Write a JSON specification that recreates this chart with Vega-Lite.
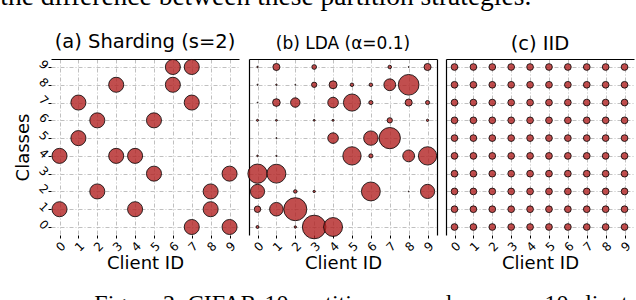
{
  "$schema": "https://vega.github.io/schema/vega-lite/v6.json",
  "padding": {"left": 0, "top": -17, "right": 0, "bottom": 0},
  "background": "white",
  "config": {
    "font": "DejaVu Sans",
    "view": {"stroke": null},
    "axis": {
      "labelFont": "DejaVu Sans", "titleFont": "DejaVu Sans",
      "gridColor": "#b0b0b0", "gridDash": [4, 2, 1, 2], "gridWidth": 0.8,
      "domainColor": "black", "domainWidth": 1.2, "tickColor": "black",
      "labelColor": "black", "titleColor": "black", "titleFontWeight": "normal"
    },
    "title": {"font": "DejaVu Sans", "fontWeight": "normal", "color": "black"}
  },
  "datasets": {
    "shard": [
      {"c": 0, "k": 4, "n": 2500}, {"c": 0, "k": 1, "n": 2500},
      {"c": 1, "k": 7, "n": 2500}, {"c": 1, "k": 5, "n": 2500},
      {"c": 2, "k": 6, "n": 2500}, {"c": 2, "k": 2, "n": 2500},
      {"c": 3, "k": 8, "n": 2500}, {"c": 3, "k": 4, "n": 2500},
      {"c": 4, "k": 4, "n": 2500}, {"c": 4, "k": 1, "n": 2500},
      {"c": 5, "k": 6, "n": 2500}, {"c": 5, "k": 3, "n": 2500},
      {"c": 6, "k": 9, "n": 2500}, {"c": 6, "k": 8, "n": 2500},
      {"c": 7, "k": 9, "n": 2500}, {"c": 7, "k": 7, "n": 2500}, {"c": 7, "k": 0, "n": 2500},
      {"c": 8, "k": 2, "n": 2500}, {"c": 8, "k": 1, "n": 2500},
      {"c": 9, "k": 3, "n": 2500}, {"c": 9, "k": 0, "n": 2500}
    ],
    "lda": [
      {"c": 0, "k": 9, "n": 24}, {"c": 1, "k": 9, "n": 553}, {"c": 3, "k": 9, "n": 246}, {"c": 7, "k": 9, "n": 138}, {"c": 8, "k": 9, "n": 9}, {"c": 9, "k": 9, "n": 553},
      {"c": 0, "k": 8, "n": 15}, {"c": 1, "k": 8, "n": 24}, {"c": 2, "k": 8, "n": 9}, {"c": 3, "k": 8, "n": 311}, {"c": 4, "k": 8, "n": 700}, {"c": 5, "k": 8, "n": 138}, {"c": 6, "k": 8, "n": 138}, {"c": 7, "k": 8, "n": 1538}, {"c": 8, "k": 8, "n": 4710},
      {"c": 0, "k": 7, "n": 9}, {"c": 1, "k": 7, "n": 650}, {"c": 2, "k": 7, "n": 984}, {"c": 4, "k": 7, "n": 1246}, {"c": 5, "k": 7, "n": 3233}, {"c": 6, "k": 7, "n": 188}, {"c": 8, "k": 7, "n": 553}, {"c": 9, "k": 7, "n": 188},
      {"c": 0, "k": 6, "n": 47}, {"c": 1, "k": 6, "n": 40}, {"c": 3, "k": 6, "n": 40}, {"c": 4, "k": 6, "n": 47}, {"c": 7, "k": 6, "n": 311}, {"c": 9, "k": 6, "n": 61},
      {"c": 1, "k": 5, "n": 15}, {"c": 4, "k": 5, "n": 1246}, {"c": 6, "k": 5, "n": 2300}, {"c": 7, "k": 5, "n": 4983},
      {"c": 0, "k": 4, "n": 30}, {"c": 1, "k": 4, "n": 20}, {"c": 5, "k": 4, "n": 3694}, {"c": 6, "k": 4, "n": 188}, {"c": 8, "k": 4, "n": 1538}, {"c": 9, "k": 4, "n": 3694},
      {"c": 0, "k": 3, "n": 4100}, {"c": 1, "k": 3, "n": 3937},
      {"c": 0, "k": 2, "n": 2215}, {"c": 2, "k": 2, "n": 138}, {"c": 3, "k": 2, "n": 61}, {"c": 6, "k": 2, "n": 3937}, {"c": 8, "k": 2, "n": 9}, {"c": 9, "k": 2, "n": 2215},
      {"c": 0, "k": 1, "n": 465}, {"c": 1, "k": 1, "n": 2034}, {"c": 2, "k": 1, "n": 5848},
      {"c": 0, "k": 0, "n": 96}, {"c": 2, "k": 0, "n": 61}, {"c": 3, "k": 0, "n": 6150}, {"c": 4, "k": 0, "n": 3937}
    ],
    "iid": [
      {"c":0,"k":0,"n":500},{"c":1,"k":0,"n":500},{"c":2,"k":0,"n":500},{"c":3,"k":0,"n":500},{"c":4,"k":0,"n":500},{"c":5,"k":0,"n":500},{"c":6,"k":0,"n":500},{"c":7,"k":0,"n":500},{"c":8,"k":0,"n":500},{"c":9,"k":0,"n":500},
      {"c":0,"k":1,"n":500},{"c":1,"k":1,"n":500},{"c":2,"k":1,"n":500},{"c":3,"k":1,"n":500},{"c":4,"k":1,"n":500},{"c":5,"k":1,"n":500},{"c":6,"k":1,"n":500},{"c":7,"k":1,"n":500},{"c":8,"k":1,"n":500},{"c":9,"k":1,"n":500},
      {"c":0,"k":2,"n":500},{"c":1,"k":2,"n":500},{"c":2,"k":2,"n":500},{"c":3,"k":2,"n":500},{"c":4,"k":2,"n":500},{"c":5,"k":2,"n":500},{"c":6,"k":2,"n":500},{"c":7,"k":2,"n":500},{"c":8,"k":2,"n":500},{"c":9,"k":2,"n":500},
      {"c":0,"k":3,"n":500},{"c":1,"k":3,"n":500},{"c":2,"k":3,"n":500},{"c":3,"k":3,"n":500},{"c":4,"k":3,"n":500},{"c":5,"k":3,"n":500},{"c":6,"k":3,"n":500},{"c":7,"k":3,"n":500},{"c":8,"k":3,"n":500},{"c":9,"k":3,"n":500},
      {"c":0,"k":4,"n":500},{"c":1,"k":4,"n":500},{"c":2,"k":4,"n":500},{"c":3,"k":4,"n":500},{"c":4,"k":4,"n":500},{"c":5,"k":4,"n":500},{"c":6,"k":4,"n":500},{"c":7,"k":4,"n":500},{"c":8,"k":4,"n":500},{"c":9,"k":4,"n":500},
      {"c":0,"k":5,"n":500},{"c":1,"k":5,"n":500},{"c":2,"k":5,"n":500},{"c":3,"k":5,"n":500},{"c":4,"k":5,"n":500},{"c":5,"k":5,"n":500},{"c":6,"k":5,"n":500},{"c":7,"k":5,"n":500},{"c":8,"k":5,"n":500},{"c":9,"k":5,"n":500},
      {"c":0,"k":6,"n":500},{"c":1,"k":6,"n":500},{"c":2,"k":6,"n":500},{"c":3,"k":6,"n":500},{"c":4,"k":6,"n":500},{"c":5,"k":6,"n":500},{"c":6,"k":6,"n":500},{"c":7,"k":6,"n":500},{"c":8,"k":6,"n":500},{"c":9,"k":6,"n":500},
      {"c":0,"k":7,"n":500},{"c":1,"k":7,"n":500},{"c":2,"k":7,"n":500},{"c":3,"k":7,"n":500},{"c":4,"k":7,"n":500},{"c":5,"k":7,"n":500},{"c":6,"k":7,"n":500},{"c":7,"k":7,"n":500},{"c":8,"k":7,"n":500},{"c":9,"k":7,"n":500},
      {"c":0,"k":8,"n":500},{"c":1,"k":8,"n":500},{"c":2,"k":8,"n":500},{"c":3,"k":8,"n":500},{"c":4,"k":8,"n":500},{"c":5,"k":8,"n":500},{"c":6,"k":8,"n":500},{"c":7,"k":8,"n":500},{"c":8,"k":8,"n":500},{"c":9,"k":8,"n":500},
      {"c":0,"k":9,"n":500},{"c":1,"k":9,"n":500},{"c":2,"k":9,"n":500},{"c":3,"k":9,"n":500},{"c":4,"k":9,"n":500},{"c":5,"k":9,"n":500},{"c":6,"k":9,"n":500},{"c":7,"k":9,"n":500},{"c":8,"k":9,"n":500},{"c":9,"k":9,"n":500}
    ]
  },
  "title": {
    "text": "Figure 2: CIFAR-10 partition examples across 10 clients.",
    "orient": "bottom", "anchor": "start", "font": "Liberation Serif",
    "fontSize": 24, "offset": 20, "dx": 94
  },
  "vconcat": [
    {
      "title": {
        "text": "the difference between these partition strategies.",
        "anchor": "start", "font": "Liberation Serif", "fontSize": 27.5,
        "offset": 21, "dx": -14
      },
      "spacing": 7,
      "hconcat": [
        {
          "width": 188, "height": 176,
          "title": {"text": "(a) Sharding (s=2)", "fontSize": 19.5, "offset": 5},
          "data": {"name": "shard"},
          "layer": [
            {
              "mark": {"type": "circle", "fill": "#b22222", "fillOpacity": 0.8, "stroke": "black", "strokeWidth": 0.8, "opacity": 1},
              "encoding": {
                "x": {"field": "c", "type": "quantitative",
                  "scale": {"domain": [-0.45, 9.5], "nice": false, "zero": false},
                  "axis": {"values": [0,1,2,3,4,5,6,7,8,9], "labelAngle": -45, "labelFontSize": 12, "tickSize": 3, "domain": false,
                    "title": "Client ID", "titleFontSize": 18, "labelPadding": 2, "titlePadding": 1}},
                "y": {"field": "k", "type": "quantitative",
                  "scale": {"domain": [-0.45, 9.45], "nice": false, "zero": false},
                  "axis": {"values": [0,1,2,3,4,5,6,7,8,9], "labelAngle": 45, "labelFontSize": 12, "tickSize": 3, "domain": false,
                    "title": "Classes", "titleFontSize": 18, "labelPadding": 2, "titlePadding": 4}},
                "size": {"field": "n", "type": "quantitative", "scale": {"domain": [0, 2500], "range": [0, 227]}, "legend": null}
              }
            },
            {
              "mark": {"type": "point", "opacity": 0},
              "encoding": {
                "x": {"field": "c", "type": "quantitative",
                  "axis": {"orient": "top", "labels": false, "ticks": false, "grid": false, "domain": true, "title": null}}
              }
            }
          ],
          "resolve": {"axis": {"x": "independent"}}
        },
        {
          "width": 188, "height": 176,
          "title": {"text": "(b) LDA (α=0.1)", "fontSize": 17, "offset": 6},
          "data": {"name": "lda"},
          "layer": [
            {
              "mark": {"type": "circle", "fill": "#b22222", "fillOpacity": 0.8, "stroke": "black", "strokeWidth": 0.8, "opacity": 1},
              "encoding": {
                "x": {"field": "c", "type": "quantitative",
                  "scale": {"domain": [-0.45, 9.5], "nice": false, "zero": false},
                  "axis": {"values": [0,1,2,3,4,5,6,7,8,9], "labelAngle": -45, "labelFontSize": 12, "tickSize": 3, "domain": false,
                    "title": "Client ID", "titleFontSize": 18, "labelPadding": 2, "titlePadding": 1}},
                "y": {"field": "k", "type": "quantitative",
                  "scale": {"domain": [-0.45, 9.45], "nice": false, "zero": false},
                  "axis": {"values": [0,1,2,3,4,5,6,7,8,9], "labels": false, "ticks": false, "domain": true, "title": null}},
                "size": {"field": "n", "type": "quantitative", "scale": {"domain": [0, 2500], "range": [0, 227]}, "legend": null}
              }
            },
            {
              "mark": {"type": "point", "opacity": 0},
              "encoding": {
                "x": {"field": "c", "type": "quantitative",
                  "axis": {"orient": "top", "labels": false, "ticks": false, "grid": false, "domain": true, "title": null}},
                "y": {"field": "k", "type": "quantitative",
                  "axis": {"orient": "right", "labels": false, "ticks": false, "grid": false, "domain": true, "title": null}}
              }
            }
          ],
          "resolve": {"axis": {"x": "independent", "y": "independent"}}
        },
        {
          "width": 188, "height": 176,
          "title": {"text": "(c) IID", "fontSize": 19.5, "offset": 5},
          "data": {"name": "iid"},
          "layer": [
            {
              "mark": {"type": "circle", "fill": "#b22222", "fillOpacity": 0.8, "stroke": "black", "strokeWidth": 0.8, "opacity": 1},
              "encoding": {
                "x": {"field": "c", "type": "quantitative",
                  "scale": {"domain": [-0.45, 9.5], "nice": false, "zero": false},
                  "axis": {"values": [0,1,2,3,4,5,6,7,8,9], "labelAngle": -45, "labelFontSize": 12, "tickSize": 3, "domain": false,
                    "title": "Client ID", "titleFontSize": 18, "labelPadding": 2, "titlePadding": 1}},
                "y": {"field": "k", "type": "quantitative",
                  "scale": {"domain": [-0.45, 9.45], "nice": false, "zero": false},
                  "axis": {"values": [0,1,2,3,4,5,6,7,8,9], "labels": false, "ticks": false, "domain": true, "title": null}},
                "size": {"field": "n", "type": "quantitative", "scale": {"domain": [0, 2500], "range": [0, 227]}, "legend": null}
              }
            },
            {
              "mark": {"type": "point", "opacity": 0},
              "encoding": {
                "x": {"field": "c", "type": "quantitative",
                  "axis": {"orient": "top", "labels": false, "ticks": false, "grid": false, "domain": true, "title": null}}
              }
            }
          ],
          "resolve": {"axis": {"x": "independent"}}
        }
      ]
    }
  ]
}
